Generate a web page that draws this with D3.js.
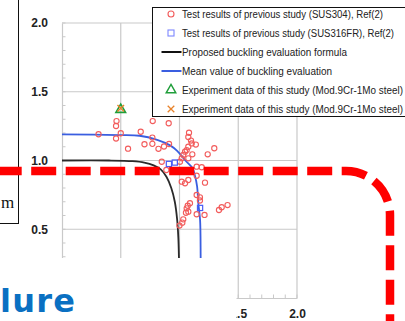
<!DOCTYPE html>
<html>
<head>
<meta charset="utf-8">
<script src="https://cdn.jsdelivr.net/npm/d3@7"></script>
<style>
  html, body { margin: 0; padding: 0; background: #fff; overflow: hidden; }
  svg { display: block; }
</style>
</head>
<body>
<div id="chart"></div>
<script>
// SUS304 test results (x, y)
const sus304 = [
  [0.311, 1.191], [0.464, 1.287], [0.460, 1.251], [0.460, 1.160], [0.500, 1.198],
  [0.562, 1.086], [0.670, 1.209], [0.772, 1.287], [0.908, 1.271], [0.769, 1.167],
  [0.702, 1.118], [0.769, 1.121], [0.821, 1.085], [0.868, 1.102], [0.911, 1.120],
  [1.081, 1.202], [1.075, 1.171], [1.098, 1.145], [1.139, 1.116], [1.104, 1.124],
  [1.075, 1.100], [1.061, 1.076], [1.047, 1.064], [1.032, 1.040], [1.019, 1.016],
  [1.109, 1.045], [1.075, 1.016], [1.240, 1.045], [1.296, 1.089], [1.004, 0.991],
  [0.849, 0.991], [1.146, 0.955], [1.189, 0.951], [0.888, 0.931], [1.019, 0.846],
  [1.047, 0.834], [1.075, 0.858], [1.146, 0.889], [1.217, 0.839], [1.146, 0.749],
  [1.174, 0.732], [1.174, 0.709], [1.089, 0.689], [1.070, 0.671], [1.061, 0.652],
  [1.075, 0.628], [1.055, 0.620], [1.146, 0.609], [1.213, 0.604], [1.336, 0.640],
  [1.359, 0.660], [1.409, 0.676], [1.032, 0.572], [1.024, 0.548], [1.000, 0.527]
];
// SUS316FR test results
const sus316 = [[0.91, 0.975], [0.96, 0.985], [1.175, 0.655]];
// this study
const expTri = [[0.5, 1.37]];
const expCross = [[0.5, 1.38]];
// proposed formula curve
const proposed = [
  [0, 1.0], [0.4, 1.0], [0.6, 0.995], [0.7, 0.985], [0.78, 0.965], [0.84, 0.935],
  [0.89, 0.88], [0.93, 0.8], [0.96, 0.7], [0.98, 0.57], [0.99, 0.44], [0.995, 0.3], [1.0, 0]
];
// mean value curve
const meanCurve = [
  [0, 1.19], [0.49, 1.185], [0.66, 1.18], [0.81, 1.15], [0.92, 1.11], [0.98, 1.07],
  [1.05, 1.0], [1.11, 0.945], [1.13, 0.895], [1.15, 0.81], [1.16, 0.69], [1.175, 0.57],
  [1.18, 0.3], [1.18, 0]
];
const gridValues = [0.5, 1.0, 1.5, 2.0];
const yTickLabels = [0.5, 1.0, 1.5, 2.0];
const xTickLabels = [1.5, 2.0];   // the lower ones sit under the heading panel
const minorTicks = d3.range(0, 21).map(d => d / 10);
const legendLabels = [
  'Test results of previous study (SUS304), Ref(2)',
  'Test results of previous study (SUS316FR), Ref(2)',
  'Proposed buckling evaluation formula',
  'Mean value of buckling evaluation',
  'Experiment data of this study (Mod.9Cr-1Mo steel)',
  'Experiment data of this study (Mod.9Cr-1Mo steel)'
];
// measured label widths in the reference (px)
const legendWidths = [201, 212, 165, 150, 221, 221];

const width = 405, height = 321;
const svg = d3.select('#chart').append('svg')
  .attr('width', width).attr('height', height);

const x = d3.scaleLinear().domain([0, 2]).range([62, 297]);
const y = d3.scaleLinear().domain([0, 2]).range([298, 23]);

const gridColor = '#c9c9c9';

// grid
svg.append('g').selectAll('line').data(gridValues).enter().append('line')
  .attr('x1', d => x(d)).attr('x2', d => x(d))
  .attr('y1', y(2)).attr('y2', y(0))
  .attr('stroke', gridColor).attr('stroke-width', 1.2);
svg.append('g').selectAll('line').data(gridValues).enter().append('line')
  .attr('x1', x(0)).attr('x2', x(2))
  .attr('y1', d => y(d)).attr('y2', d => y(d))
  .attr('stroke', gridColor).attr('stroke-width', 1.2);

// axes
const yAxis = svg.append('g').attr('transform', 'translate(' + x(0) + ',0)')
  .call(d3.axisLeft(y).tickValues(yTickLabels).tickFormat(d3.format('.1f')).tickSize(0).tickPadding(14));
const xAxis = svg.append('g').attr('transform', 'translate(0,' + y(0) + ')')
  .call(d3.axisBottom(x).tickValues(xTickLabels).tickFormat(d3.format('.1f')).tickSize(0).tickPadding(11));
[yAxis, xAxis].forEach(a => {
  a.select('.domain').attr('stroke', gridColor).attr('stroke-width', 1.2);
  a.selectAll('text').attr('font-family', 'Liberation Sans, Arial, sans-serif')
    .attr('font-size', 12).attr('font-weight', 'bold').attr('fill', '#222');
});
// minor ticks
svg.append('g').selectAll('line').data(minorTicks).enter().append('line')
  .attr('x1', x(0)).attr('x2', x(0) + 3.5)
  .attr('y1', d => y(d)).attr('y2', d => y(d))
  .attr('stroke', gridColor).attr('stroke-width', 1);
svg.append('g').selectAll('line').data(minorTicks).enter().append('line')
  .attr('x1', d => x(d)).attr('x2', d => x(d))
  .attr('y1', y(0)).attr('y2', y(0) - 3.5)
  .attr('stroke', gridColor).attr('stroke-width', 1);

// curves
const line = d3.line().x(d => x(d[0])).y(d => y(d[1])).curve(d3.curveCatmullRom);
svg.append('path').attr('d', line(proposed))
  .attr('fill', 'none').attr('stroke', '#2a2a2a').attr('stroke-width', 1.8);
svg.append('path').attr('d', line(meanCurve))
  .attr('fill', 'none').attr('stroke', '#3a5ee0').attr('stroke-width', 1.8);

// points
svg.append('g').selectAll('circle').data(sus304).enter().append('circle')
  .attr('cx', d => x(d[0])).attr('cy', d => y(d[1])).attr('r', 2.6)
  .attr('fill', 'none').attr('stroke', '#f25c5c').attr('stroke-width', 1.1);
svg.append('g').selectAll('rect').data(sus316).enter().append('rect')
  .attr('x', d => x(d[0]) - 2.6).attr('y', d => y(d[1]) - 2.6)
  .attr('width', 5.2).attr('height', 5.2)
  .attr('fill', 'none').attr('stroke', '#4a5cf5').attr('stroke-width', 1.2);
const tri = d3.symbol().type(d3.symbolTriangle).size(40);
svg.append('g').selectAll('path').data(expTri).enter().append('path')
  .attr('d', tri).attr('transform', d => 'translate(' + x(d[0]) + ',' + y(d[1]) + ')')
  .attr('fill', 'none').attr('stroke', '#1f9e3a').attr('stroke-width', 1.6);
const cross = d3.symbol().type(d3.symbolTimes).size(30);
svg.append('g').selectAll('path').data(expCross).enter().append('path')
  .attr('d', cross).attr('transform', d => 'translate(' + x(d[0]) + ',' + y(d[1]) + ')')
  .attr('fill', 'none').attr('stroke', '#e8822a').attr('stroke-width', 1.4);

// legend
const lg = svg.append('g');
lg.append('rect').attr('x', 152.5).attr('y', 7.5).attr('width', 260).attr('height', 109)
  .attr('fill', '#fff').attr('stroke', '#111').attr('stroke-width', 1);
const rowY = i => 14 + i * 19;
const sx = 171;
lg.append('circle').attr('cx', sx).attr('cy', rowY(0)).attr('r', 3)
  .attr('fill', 'none').attr('stroke', '#f25c5c').attr('stroke-width', 1.1);
lg.append('rect').attr('x', sx - 3).attr('y', rowY(1) - 3).attr('width', 6).attr('height', 6)
  .attr('fill', 'none').attr('stroke', '#7d87ff').attr('stroke-width', 1.1);
lg.append('line').attr('x1', 161.5).attr('x2', 181.5).attr('y1', rowY(2)).attr('y2', rowY(2))
  .attr('stroke', '#111').attr('stroke-width', 2);
lg.append('line').attr('x1', 161.5).attr('x2', 181.5).attr('y1', rowY(3)).attr('y2', rowY(3))
  .attr('stroke', '#3a5ee0').attr('stroke-width', 2);
lg.append('path').attr('d', tri).attr('transform', 'translate(' + sx + ',' + rowY(4) + ')')
  .attr('fill', 'none').attr('stroke', '#1f9e3a').attr('stroke-width', 1.4);
lg.append('path').attr('d', cross).attr('transform', 'translate(' + sx + ',' + rowY(5) + ')')
  .attr('fill', 'none').attr('stroke', '#e8822a').attr('stroke-width', 1.3);
lg.selectAll('text').data(legendLabels).enter().append('text')
  .attr('x', 182).attr('y', (d, i) => rowY(i)).attr('dy', '0.35em')
  .attr('font-family', 'Liberation Sans, Arial, sans-serif').attr('font-size', 10)
  .attr('textLength', (d, i) => legendWidths[i]).attr('lengthAdjust', 'spacingAndGlyphs')
  .attr('fill', '#222').text(d => d);

// text box at left
svg.append('rect').attr('x', -20).attr('y', -5).attr('width', 38.5).attr('height', 228.5)
  .attr('fill', '#fff').attr('stroke', '#111').attr('stroke-width', 1);
svg.append('text').attr('x', 1).attr('y', 208)
  .attr('font-family', 'Liberation Serif, Times New Roman, serif').attr('font-size', 17)
  .attr('fill', '#111').text('m');

// red dashed callout
svg.append('path').attr('d', 'M -3.3 171 H 346 A 44 44 0 0 1 390 215 V 360')
  .attr('fill', 'none').attr('stroke', '#ff0000').attr('stroke-width', 8.5)
  .attr('stroke-dasharray', '25 9.5');

// cover + heading fragment
svg.append('rect').attr('x', 0).attr('y', 258).attr('width', 236.5).attr('height', 63).attr('fill', '#fff');
svg.append('text').attr('x', 0).attr('y', 312)
  .attr('font-family', 'DejaVu Sans, Verdana, sans-serif').attr('font-size', 32)
  .attr('letter-spacing', 1.2)
  .attr('font-weight', 'bold').attr('fill', '#0a70c2').text('lure');
</script>
</body>
</html>
